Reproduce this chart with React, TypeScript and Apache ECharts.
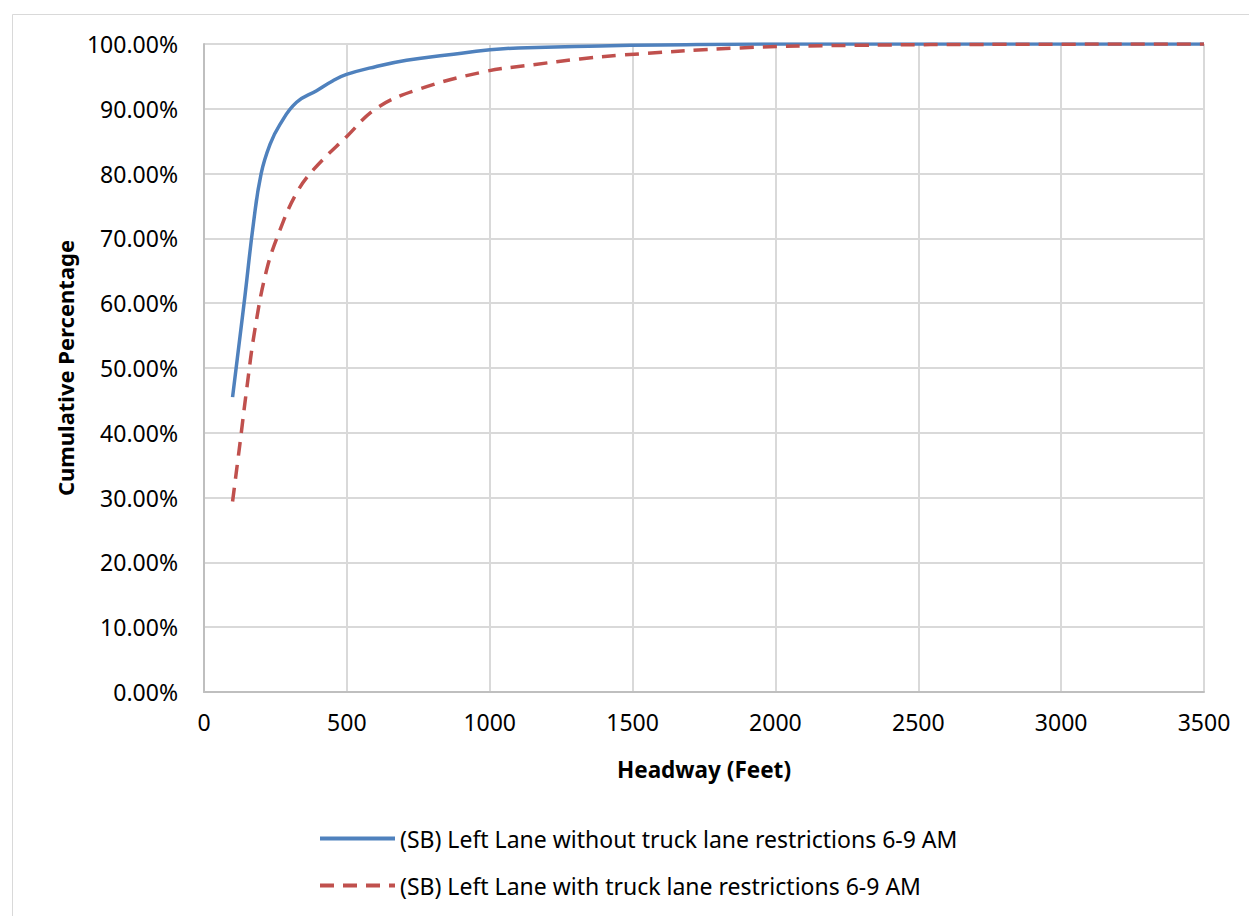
import React, { useEffect, useRef } from "react";
import * as echarts from "echarts";

const xTicks = [0, 500, 1000, 1500, 2000, 2500, 3000, 3500];
const seriesNames = [
  "(SB) Left Lane without truck lane restrictions 6-9 AM",
  "(SB) Left Lane with truck lane restrictions 6-9 AM",
];
const withoutRestr: [number, number][] = [
  [100, 45.5], [143, 61], [173, 72.3], [200, 80], [231, 84.5], [266, 87.6],
  [324, 91.0], [394, 92.8], [450, 94.3], [499, 95.3], [600, 96.5],
  [709, 97.5], [850, 98.3], [1001, 99.1], [1100, 99.4], [1386, 99.7],
  [1600, 99.85], [2000, 100], [3500, 100],
];
const withRestr: [number, number][] = [
  [100, 29.4], [126, 38.4], [149, 46.6], [178, 55.9], [219, 65.1], [266, 71.3],
  [324, 77], [383, 80.6], [499, 85.7], [604, 90.1], [744, 92.9], [978, 95.7],
  [1153, 96.8], [1316, 97.7], [1466, 98.3], [1876, 99.4], [2286, 99.8],
  [2800, 99.95], [3500, 100],
];

const FONT = "'Noto Sans', sans-serif";

export default function App() {
  const ref = useRef<HTMLDivElement>(null);
  useEffect(() => {
    if (!ref.current) return;
    const chart = echarts.init(ref.current, null, { renderer: "svg" });
    chart.setOption({
      animation: false,
      backgroundColor: "#ffffff",
      textStyle: { fontFamily: FONT },
      graphic: [
        {
          type: "rect",
          shape: { x: 12.5, y: 14.5, width: 1260, height: 920 },
          style: { fill: "none", stroke: "#d9d9d9", lineWidth: 1 },
          silent: true,
        },
      ],
      grid: { left: 204, top: 44, right: 45, bottom: 224, containLabel: false },
      legend: {
        orient: "vertical",
        left: 313,
        top: 822,
        itemWidth: 75,
        itemHeight: 14,
        itemGap: 24,
        itemStyle: { opacity: 0 },
        lineStyle: { width: 4 },
        textStyle: { fontFamily: FONT, fontSize: 23, color: "#000" },
        data: seriesNames,
      },
      xAxis: {
        type: "value",
        min: 0,
        max: 3500,
        interval: 500,
        name: "Headway (Feet)",
        nameLocation: "middle",
        nameGap: 66,
        nameTextStyle: { fontFamily: FONT, fontSize: 22.5, fontWeight: "bold", color: "#000" },
        axisLine: { show: true, lineStyle: { color: "#bfbfbf", width: 2 } },
        axisTick: { show: false },
        axisLabel: {
          fontFamily: FONT,
          fontSize: 23,
          color: "#000",
          margin: 18,
          formatter: (v: number) => String(v),
        },
        splitLine: { show: true, lineStyle: { color: "#d9d9d9", width: 2 } },
      },
      yAxis: {
        type: "value",
        min: 0,
        max: 100,
        interval: 10,
        name: "Cumulative Percentage",
        nameLocation: "middle",
        nameGap: 128,
        nameTextStyle: { fontFamily: FONT, fontSize: 22, fontWeight: "bold", color: "#000" },
        axisLine: { show: true, lineStyle: { color: "#bfbfbf", width: 2 } },
        axisTick: { show: false },
        axisLabel: {
          fontFamily: FONT,
          fontSize: 23,
          color: "#000",
          margin: 26,
          formatter: (v: number) => v.toFixed(2) + "%",
        },
        splitLine: { show: true, lineStyle: { color: "#d9d9d9", width: 2 } },
      },
      series: [
        {
          name: seriesNames[0],
          type: "line",
          data: withoutRestr,
          smooth: 0.45,
          symbol: "none",
          lineStyle: { color: "#4f81bd", width: 3.5 },
          itemStyle: { color: "#4f81bd" },
        },
        {
          name: seriesNames[1],
          type: "line",
          data: withRestr,
          smooth: 0.4,
          symbol: "none",
          lineStyle: { color: "#c0504d", width: 3.5, type: [14, 9] },
          itemStyle: { color: "#c0504d" },
        },
      ],
    });
    return () => chart.dispose();
  }, []);
  return (
    <div
      ref={ref}
      style={{ position: "absolute", left: 0, top: 0, width: 1249, height: 916 }}
    />
  );
}
